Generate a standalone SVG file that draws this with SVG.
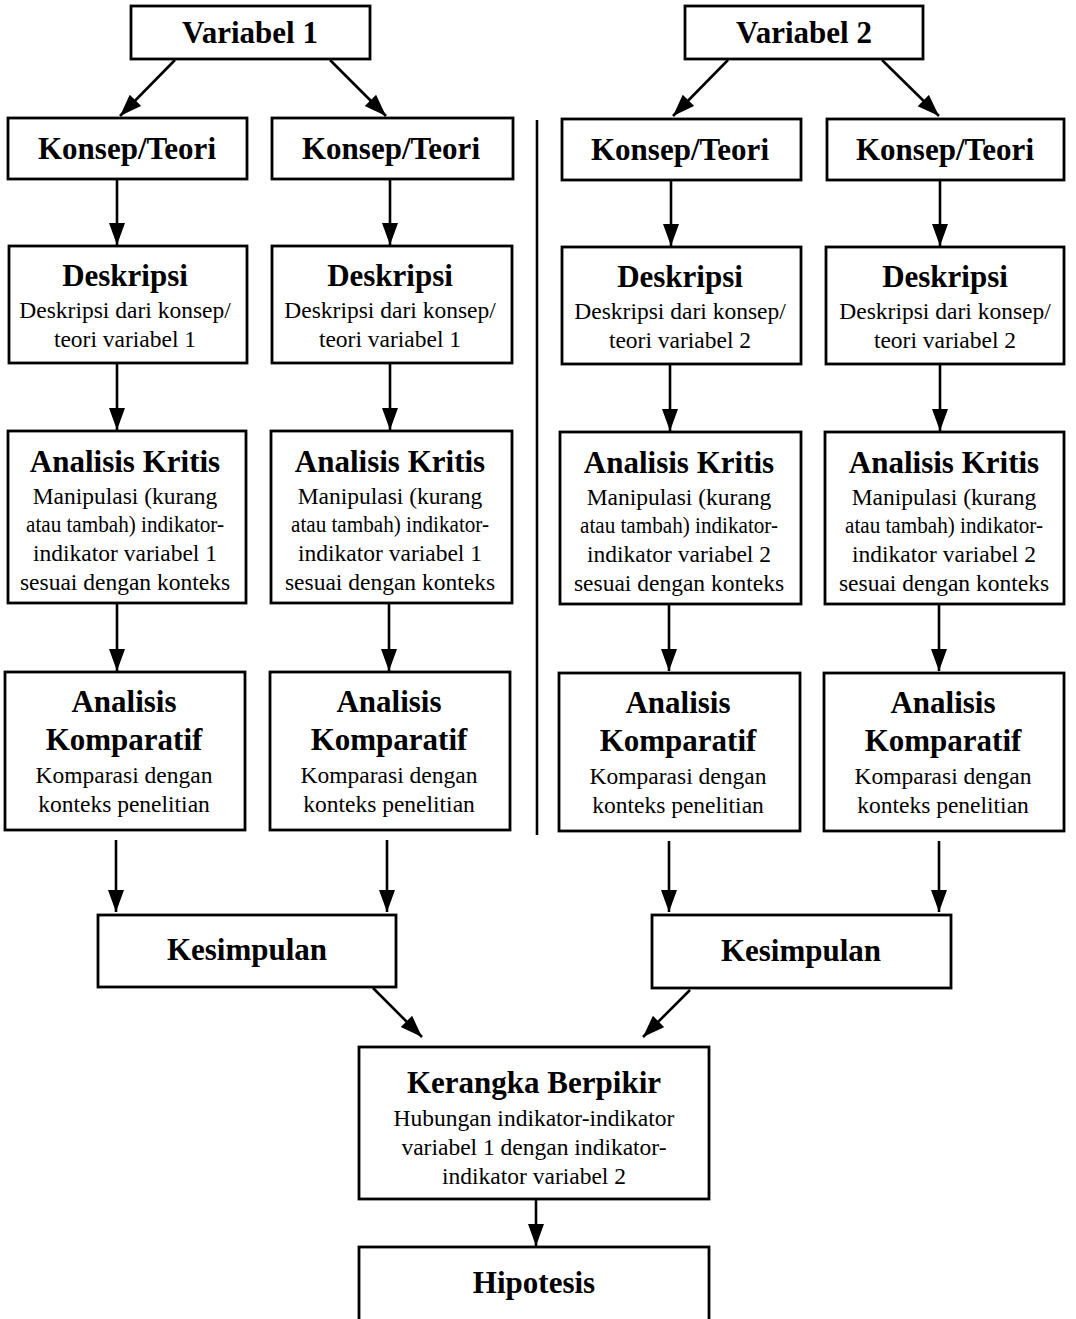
<svg xmlns="http://www.w3.org/2000/svg" width="1076" height="1319" viewBox="0 0 1076 1319">
<defs>
<style>
.box{fill:#fff;stroke:#000;stroke-width:2.8}
.t{font-family:"Liberation Serif","Times New Roman",serif;font-weight:bold;font-size:31px;text-anchor:middle;fill:#000}
.b{font-family:"Liberation Serif","Times New Roman",serif;font-size:23.5px;text-anchor:middle;fill:#000}
.c{fill:none;stroke:#000;stroke-width:2.6}
</style>
<marker id="ah" markerUnits="userSpaceOnUse" markerWidth="24" markerHeight="18" refX="22" refY="8" orient="auto">
<path d="M0,0 L22,8 L0,16 Z" fill="#000"/>
</marker>
</defs>
<rect width="1076" height="1319" fill="#fff"/>

<g id="connectors">
<line class="c" x1="537" y1="120" x2="537" y2="835"/>
<line class="c" x1="175" y1="60" x2="120" y2="116" marker-end="url(#ah)"/>
<line class="c" x1="330" y1="60" x2="386" y2="116" marker-end="url(#ah)"/>
<line class="c" x1="728" y1="60" x2="673" y2="116" marker-end="url(#ah)"/>
<line class="c" x1="882" y1="60" x2="939" y2="116" marker-end="url(#ah)"/>
<line class="c" x1="117" y1="180" x2="117" y2="245" marker-end="url(#ah)"/>
<line class="c" x1="390" y1="180" x2="390" y2="245" marker-end="url(#ah)"/>
<line class="c" x1="671" y1="180" x2="671" y2="246" marker-end="url(#ah)"/>
<line class="c" x1="940" y1="180" x2="940" y2="246" marker-end="url(#ah)"/>
<line class="c" x1="117" y1="364" x2="117" y2="430" marker-end="url(#ah)"/>
<line class="c" x1="390" y1="364" x2="390" y2="430" marker-end="url(#ah)"/>
<line class="c" x1="670" y1="364" x2="670" y2="431" marker-end="url(#ah)"/>
<line class="c" x1="940" y1="364" x2="940" y2="431" marker-end="url(#ah)"/>
<line class="c" x1="117" y1="604" x2="117" y2="671" marker-end="url(#ah)"/>
<line class="c" x1="389" y1="604" x2="389" y2="671" marker-end="url(#ah)"/>
<line class="c" x1="669" y1="604" x2="669" y2="671" marker-end="url(#ah)"/>
<line class="c" x1="939" y1="604" x2="939" y2="671" marker-end="url(#ah)"/>
<line class="c" x1="116" y1="840" x2="116" y2="912" marker-end="url(#ah)"/>
<line class="c" x1="387" y1="840" x2="387" y2="912" marker-end="url(#ah)"/>
<line class="c" x1="669" y1="841" x2="669" y2="912" marker-end="url(#ah)"/>
<line class="c" x1="939" y1="841" x2="939" y2="912" marker-end="url(#ah)"/>
<line class="c" x1="373" y1="988" x2="422" y2="1037" marker-end="url(#ah)"/>
<line class="c" x1="690" y1="990" x2="643" y2="1037" marker-end="url(#ah)"/>
<line class="c" x1="536" y1="1199" x2="536" y2="1246" marker-end="url(#ah)"/>
</g>

<g id="variabel1"><rect class="box" x="131" y="6" width="239" height="53"/><text class="t" x="250" y="43">Variabel 1</text></g>
<g id="variabel2"><rect class="box" x="685" y="6" width="238" height="53"/><text class="t" x="804" y="43">Variabel 2</text></g>

<g id="konsep1"><rect class="box" x="8" y="118" width="239" height="61"/><text class="t" x="127" y="159">Konsep/Teori</text></g>
<g id="konsep2"><rect class="box" x="272" y="118" width="241" height="61"/><text class="t" x="391" y="159">Konsep/Teori</text></g>
<g id="konsep3"><rect class="box" x="562" y="119" width="239" height="61"/><text class="t" x="680" y="160">Konsep/Teori</text></g>
<g id="konsep4"><rect class="box" x="827" y="119" width="237" height="61"/><text class="t" x="945" y="160">Konsep/Teori</text></g>

<g id="deskripsi1"><rect class="box" x="9" y="246" width="238" height="117"/><text class="t" x="125" y="286">Deskripsi</text><text class="b" x="125" y="318">Deskripsi dari konsep/</text><text class="b" x="125" y="347">teori variabel 1</text></g>
<g id="deskripsi2"><rect class="box" x="272" y="246" width="240" height="117"/><text class="t" x="390" y="286">Deskripsi</text><text class="b" x="390" y="318">Deskripsi dari konsep/</text><text class="b" x="390" y="347">teori variabel 1</text></g>
<g id="deskripsi3"><rect class="box" x="562" y="247" width="239" height="117"/><text class="t" x="680" y="287">Deskripsi</text><text class="b" x="680" y="319">Deskripsi dari konsep/</text><text class="b" x="680" y="348">teori variabel 2</text></g>
<g id="deskripsi4"><rect class="box" x="826" y="247" width="238" height="117"/><text class="t" x="945" y="287">Deskripsi</text><text class="b" x="945" y="319">Deskripsi dari konsep/</text><text class="b" x="945" y="348">teori variabel 2</text></g>

<g id="kritis1"><rect class="box" x="8" y="431" width="238" height="172"/><text class="t" x="125" y="472">Analisis Kritis</text><text class="b" x="125" y="504">Manipulasi (kurang</text><text class="b" x="125" y="532" textLength="198" lengthAdjust="spacingAndGlyphs">atau tambah) indikator-</text><text class="b" x="125" y="561">indikator variabel 1</text><text class="b" x="125" y="590">sesuai dengan konteks</text></g>
<g id="kritis2"><rect class="box" x="271" y="431" width="241" height="172"/><text class="t" x="390" y="472">Analisis Kritis</text><text class="b" x="390" y="504">Manipulasi (kurang</text><text class="b" x="390" y="532" textLength="198" lengthAdjust="spacingAndGlyphs">atau tambah) indikator-</text><text class="b" x="390" y="561">indikator variabel 1</text><text class="b" x="390" y="590">sesuai dengan konteks</text></g>
<g id="kritis3"><rect class="box" x="560" y="432" width="241" height="172"/><text class="t" x="679" y="473">Analisis Kritis</text><text class="b" x="679" y="505">Manipulasi (kurang</text><text class="b" x="679" y="533" textLength="198" lengthAdjust="spacingAndGlyphs">atau tambah) indikator-</text><text class="b" x="679" y="562">indikator variabel 2</text><text class="b" x="679" y="591">sesuai dengan konteks</text></g>
<g id="kritis4"><rect class="box" x="825" y="432" width="239" height="172"/><text class="t" x="944" y="473">Analisis Kritis</text><text class="b" x="944" y="505">Manipulasi (kurang</text><text class="b" x="944" y="533" textLength="198" lengthAdjust="spacingAndGlyphs">atau tambah) indikator-</text><text class="b" x="944" y="562">indikator variabel 2</text><text class="b" x="944" y="591">sesuai dengan konteks</text></g>

<g id="komparatif1"><rect class="box" x="5" y="672" width="240" height="158"/><text class="t" x="124" y="712">Analisis</text><text class="t" x="124" y="750">Komparatif</text><text class="b" x="124" y="783">Komparasi dengan</text><text class="b" x="124" y="812">konteks penelitian</text></g>
<g id="komparatif2"><rect class="box" x="270" y="672" width="240" height="158"/><text class="t" x="389" y="712">Analisis</text><text class="t" x="389" y="750">Komparatif</text><text class="b" x="389" y="783">Komparasi dengan</text><text class="b" x="389" y="812">konteks penelitian</text></g>
<g id="komparatif3"><rect class="box" x="559" y="673" width="241" height="158"/><text class="t" x="678" y="713">Analisis</text><text class="t" x="678" y="751">Komparatif</text><text class="b" x="678" y="784">Komparasi dengan</text><text class="b" x="678" y="813">konteks penelitian</text></g>
<g id="komparatif4"><rect class="box" x="824" y="673" width="240" height="158"/><text class="t" x="943" y="713">Analisis</text><text class="t" x="943" y="751">Komparatif</text><text class="b" x="943" y="784">Komparasi dengan</text><text class="b" x="943" y="813">konteks penelitian</text></g>

<g id="kesimpulan1"><rect class="box" x="98" y="915" width="298" height="72"/><text class="t" x="247" y="960">Kesimpulan</text></g>
<g id="kesimpulan2"><rect class="box" x="652" y="915" width="299" height="73"/><text class="t" x="801" y="961">Kesimpulan</text></g>

<g id="kerangka"><rect class="box" x="359" y="1047" width="350" height="152"/><text class="t" x="534" y="1093">Kerangka Berpikir</text><text class="b" x="534" y="1126">Hubungan indikator-indikator</text><text class="b" x="534" y="1155">variabel 1 dengan indikator-</text><text class="b" x="534" y="1184">indikator variabel 2</text></g>
<g id="hipotesis"><rect class="box" x="359" y="1247" width="350" height="74"/><text class="t" x="534" y="1293">Hipotesis</text></g>
</svg>
